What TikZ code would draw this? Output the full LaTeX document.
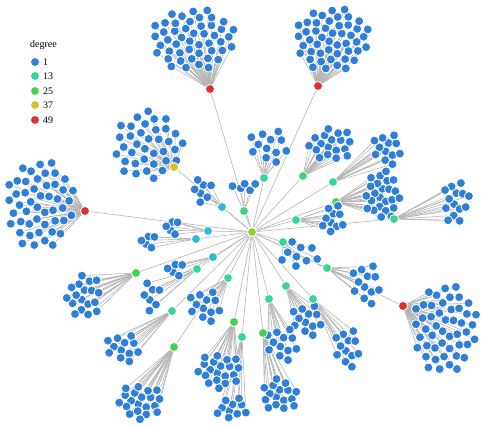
\documentclass[tikz,border=0pt]{standalone}
\usepackage{fontspec}
\setmainfont{Liberation Serif}
\usepackage{tikz}
\definecolor{dgLeaf}{HTML}{2F7ED8}
\definecolor{dgCyan}{HTML}{2DBAD3}
\definecolor{dgTeal}{HTML}{36D59A}
\definecolor{dgMint}{HTML}{3ED477}
\definecolor{dgGreen}{HTML}{44D14B}
\definecolor{dgCenter}{HTML}{97CB2E}
\definecolor{dgYellow}{HTML}{D5C32B}
\definecolor{dgRed}{HTML}{DD3030}
\definecolor{dgLink}{HTML}{B5B5B5}
\tikzset{
  dot/.style={circle, inner sep=0pt, minimum size=9pt, draw=white, line width=0.8pt},
  leaf/.style={dot, fill=dgLeaf},
  hubcyan/.style={dot, fill=dgCyan},
  hubteal/.style={dot, fill=dgTeal},
  hubmint/.style={dot, fill=dgMint},
  hubgreen/.style={dot, fill=dgGreen},
  hubcenter/.style={dot, fill=dgCenter},
  hubyellow/.style={dot, fill=dgYellow},
  hubred/.style={dot, fill=dgRed},
  link/.style={draw=dgLink, line width=0.6pt},
  keytext/.style={font=\fontsize{10}{12}\selectfont, inner sep=1pt, anchor=west}
}
% name / style / hub x / hub y / blob x / blob y / leaves / blob rx / blob ry
\newcommand{\hubdata}{%
  redA/hubred/210/89/193/39/48/43/32,
  redB/hubred/318/86/332/39/48/38/33,
  redC/hubred/85/211/40/204/48/35/46,
  redD/hubred/403/306/445/328/48/33/46,
  yelA/hubyellow/174/167/148/146/36/36/35,
  tealA/hubteal/264/178/270/146/12/22/18,
  mintA/hubmint/303/176/331/145/18/23/18,
  tealB/hubteal/333/182/388/149/12/16/17,
  greenA/hubgreen/336/202/382/195/24/19/25,
  tealC/hubteal/394/219/456/201/14/14/24,
  tealD/hubteal/296/220/333/220/10/12/16,
  tealE/hubteal/283/242/300/254/9/20/16,
  tealF/hubteal/327/268/367/284/12/16/22,
  tealG/hubteal/286/286/308/320/12/17/17,
  tealH/hubteal/313/299/348/348/12/14/21,
  tealI/hubteal/269/299/283/344/12/18/18,
  greenB/hubgreen/234/322/220/371/20/24/18,
  tealJ/hubteal/242/337/232/409/10/17/12,
  greenC/hubgreen/263/333/279/395/16/20/17,
  greenD/hubgreen/174/347/141/402/20/24/18,
  tealK/hubteal/172/311/124/348/12/19/15,
  greenE/hubgreen/136/273/84/297/18/18/24,
  tealL/hubteal/228/278/206/306/12/18/17,
  tealM/hubteal/197/269/152/297/7/11/16,
  cyanA/hubcyan/222/207/203/191/7/12/13,
  mintB/hubmint/244/211/244/187/5/14/6,
  cyanB/hubcyan/208/231/172/228/5/7/11,
  cyanC/hubcyan/196/239/148/242/5/8/10,
  cyanD/hubcyan/213/257/175/270/5/9/10%
}

\begin{document}
\begin{tikzpicture}[x=1pt, y=-1pt]
  \useasboundingbox (0,0) rectangle (491,426);
  \coordinate (center) at (252,232);

  % links first
  \foreach \nm/\sty/\hx/\hy/\cx/\cy/\cnt/\rx/\ry in \hubdata {
    \coordinate (\nm) at (\hx,\hy);
    \draw[link] (center) -- (\nm);
    \foreach \k in {1,...,\cnt} {
      \pgfmathsetmacro\rr{sqrt((\k-0.5)/\cnt)}
      \pgfmathsetmacro\aa{\k*137.508}
      \coordinate (\nm-\k) at ({\cx+\rx*\rr*cos(\aa)},{\cy+\ry*\rr*sin(\aa)});
      \draw[link] (\nm) -- (\nm-\k);
    }
  }
  \foreach \p [count=\i] in {(226,227),(239,230),(233,239),(246,241),(259,237),(266,216),(219,214),(314,197)} {
    \coordinate (solo\i) at \p;
    \draw[link] (center) -- (solo\i);
  }

  % dots on top
  \foreach \nm/\sty/\hx/\hy/\cx/\cy/\cnt/\rx/\ry in \hubdata {
    \foreach \k in {1,...,\cnt} {
      \node[leaf] (\nm-\k) at (\nm-\k) {};
    }
    \node[\sty] (\nm) at (\nm) {};
  }
  \foreach \i in {1,...,8} {
    \node[leaf] (solo\i) at (solo\i) {};
  }
  \node[hubcenter] (center) at (center) {};

  % legend
  \node[keytext] (keytitle) at (29,45) {degree};
  \foreach \s/\t/\y in {leaf/1/62, hubteal/13/76, hubgreen/25/91, hubyellow/37/105, hubred/49/120} {
    \node[\s] (key\t) at (35,\y) {};
    \node[keytext] (keylabel\t) at (42,\y) {\t};
  }
\end{tikzpicture}
\end{document}
